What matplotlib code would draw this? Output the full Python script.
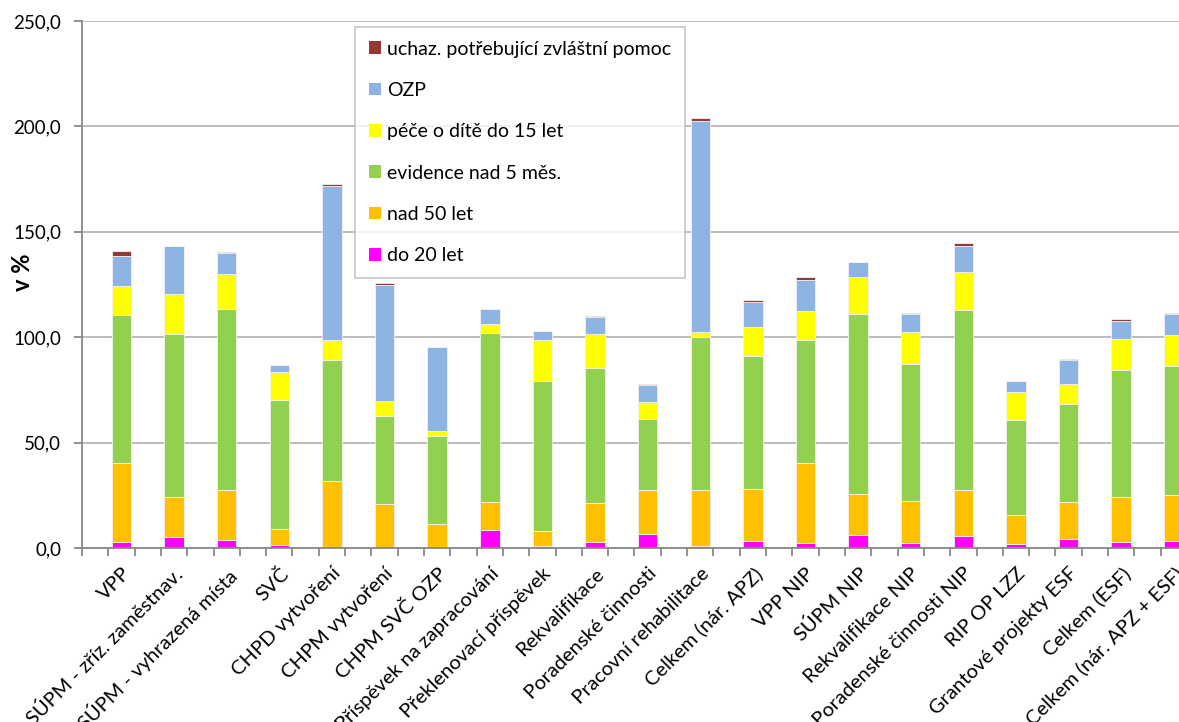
import numpy as np
from matplotlib import pyplot as plt
from matplotlib.patches import Patch
from matplotlib.ticker import FuncFormatter, FixedLocator

plt.rcParams['font.family'] = ['Lato', 'DejaVu Sans']

categories = ["VPP", "SÚPM - zříz. zaměstnav.", "SÚPM - vyhrazená místa", "SVČ",
              "CHPD vytvoření", "CHPM vytvoření", "CHPM SVČ OZP",
              "Příspěvek na zapracování", "Překlenovací příspěvek", "Rekvalifikace",
              "Poradenské činnosti", "Pracovní rehabilitace", "Celkem (nár. APZ)",
              "VPP NIP", "SÚPM NIP", "Rekvalifikace NIP", "Poradenské činnosti NIP",
              "RIP OP LZZ", "Grantové projekty ESF", "Celkem (ESF)",
              "Celkem (nár. APZ + ESF)"]

do_20 = [2.7, 5.1, 3.9, 1.2, 0.0, 0.0, 0.0, 8.7, 0.8, 2.9, 6.5,
         1.0, 3.4, 2.5, 6.1, 2.5, 5.6, 1.9, 4.2, 2.9, 3.2]
nad_50 = [37.7, 19.0, 23.6, 8.0, 31.8, 21.1, 11.4, 13.2, 7.5, 18.3, 21.2,
          26.7, 24.5, 37.9, 19.7, 19.6, 22.1, 13.9, 17.7, 21.1, 21.8]
evidence = [70.1, 77.5, 86.0, 61.1, 57.6, 41.6, 41.8, 80.1, 71.1, 64.4, 33.6,
            72.2, 63.3, 58.3, 85.2, 65.2, 85.0, 44.7, 46.4, 60.3, 61.5]
pece = [13.7, 18.7, 16.7, 13.3, 9.3, 7.0, 2.2, 4.4, 19.3, 15.8, 8.0,
        2.6, 13.6, 13.8, 17.5, 15.0, 18.1, 13.6, 9.5, 14.8, 14.4]
ozp = [14.5, 22.8, 9.6, 3.2, 72.9, 54.9, 39.9, 6.8, 4.1, 8.2, 7.8,
       100.2, 12.1, 14.4, 7.1, 8.7, 12.6, 4.9, 11.2, 8.8, 9.9]
uchaz = [2.2, 0.0, 0.6, 0.0, 0.9, 1.0, 0.0, 0.0, 0.0, 0.3, 0.6,
         1.4, 0.7, 1.7, 0.3, 0.5, 1.5, 0.4, 0.6, 0.7, 0.7]

series = [("do 20 let", do_20, "#FF00FF"),
          ("nad 50 let", nad_50, "#FFC000"),
          ("evidence nad 5 měs.", evidence, "#92D050"),
          ("péče o dítě do 15 let", pece, "#FFFF00"),
          ("OZP", ozp, "#8DB4E2"),
          ("uchaz. potřebující zvláštní pomoc", uchaz, "#953735")]

fig = plt.figure(figsize=(11.79, 7.22), dpi=100)
# axis runs past the right edge of the picture, like in the original
ax = fig.add_axes([82 / 1179, 174 / 722, 1105 / 1179, 527 / 722])

# every category takes two slots, the first one empty
x = np.arange(len(categories)) * 2 + 1.5
bottom = np.zeros(len(categories))
for name, vals, col in series:
    vals = np.array(vals)
    ax.bar(x, vals, width=0.74, bottom=bottom, color=col,
           edgecolor='#f2f2f2', linewidth=0.6, label=name)
    bottom += vals

ax.set_xlim(0, 2 * len(categories))
ax.set_ylim(0, 250)
ax.set_yticks(np.arange(0, 251, 50))
ax.yaxis.set_major_formatter(FuncFormatter(lambda v, p: f"{v:.1f}".replace('.', ',')))
ax.yaxis.grid(True, color='#b8b8b8', linewidth=1.3)
ax.set_axisbelow(True)

ax.set_xticks(x)
ax.set_xticklabels(categories, rotation=45, ha='right', va='top',
                   rotation_mode='anchor', fontsize=14.5)
ax.xaxis.set_minor_locator(FixedLocator(np.arange(0, 2 * len(categories) + 1)))
ax.tick_params(axis='x', which='major', length=0, pad=12)
ax.tick_params(axis='x', which='minor', length=6, width=1.3, color='#888888', direction='out')
ax.tick_params(axis='y', length=6, width=1.3, color='#888888', labelsize=13.5, pad=9)

for s in ['top', 'right']:
    ax.spines[s].set_visible(False)
for s in ['left', 'bottom']:
    ax.spines[s].set_color('#888888')
    ax.spines[s].set_linewidth(1.3)

ax.set_ylabel("v %", fontsize=17, fontweight='bold')
ax.yaxis.set_label_coords(-48 / 1105, (548 - 272) / 527)

handles = [Patch(facecolor=col, edgecolor='none', label=name) for name, vals, col in series][::-1]
leg = fig.legend(handles=handles, loc='upper left', bbox_to_anchor=(355 / 1179, 1 - 27 / 722),
                 fontsize=14, frameon=True, fancybox=False, handlelength=0.62, handleheight=0.62,
                 handletextpad=0.35, labelspacing=1.25, borderpad=0.7, borderaxespad=0)
leg.get_frame().set_edgecolor('#bfbfbf')
leg.get_frame().set_linewidth(1.3)

plt.savefig("out.png", dpi=100)
